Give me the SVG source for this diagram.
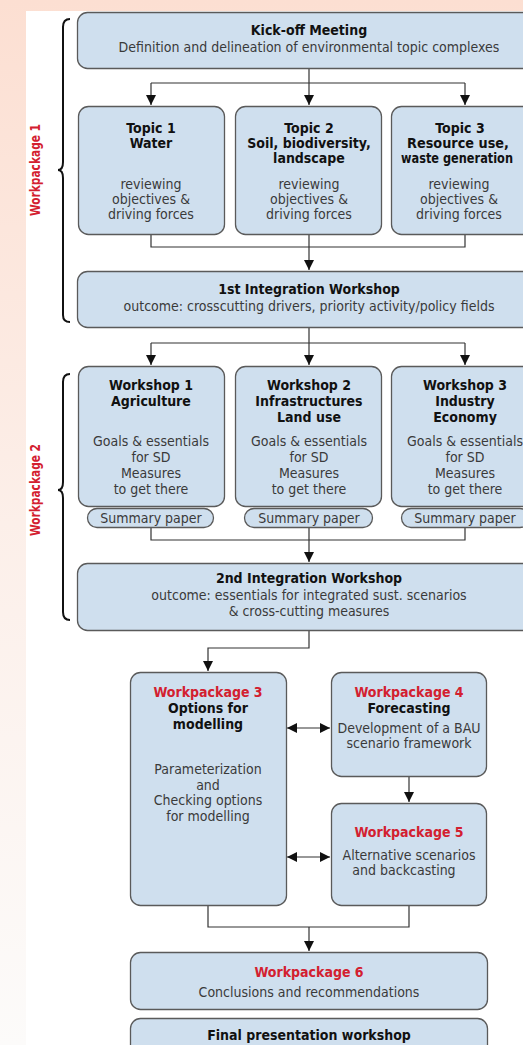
<svg xmlns="http://www.w3.org/2000/svg" width="523" height="1045" viewBox="0 0 523 1045">
<defs>
<linearGradient id="bg" x1="0" y1="0" x2="0" y2="1">
<stop offset="0" stop-color="#fcdfd2"/>
<stop offset="0.5" stop-color="#fcefe9"/>
<stop offset="1" stop-color="#fcfbfa"/>
</linearGradient>
<marker id="ah" viewBox="0 0 10 10" refX="10" refY="5" markerWidth="10" markerHeight="10" markerUnits="userSpaceOnUse" orient="auto-start-reverse">
<path d="M0,0 L10,5 L0,10 Z" fill="#111"/>
</marker>
<style>
.box{fill:#cfdfee;stroke:#5a5a5a;stroke-width:1.3}
.ln{fill:none;stroke:#333;stroke-width:1.2}
.br{fill:none;stroke:#111;stroke-width:2}
text{font-family:"Liberation Sans Narrow","DejaVu Sans Condensed","Liberation Sans",sans-serif;text-anchor:middle;font-size:14px}
.t{font-weight:bold;fill:#111}
.b{fill:#3a3a3a}
.r{font-weight:bold;fill:#d3202f}
</style>
</defs>
<rect x="0" y="0" width="523" height="1045" fill="url(#bg)"/>
<rect x="26" y="11" width="497" height="1034" fill="#ffffff"/>

<g id="wp1-label">
<path class="br" d="M70,19 Q63,19 63,27 L63,162 Q63,170 58,170 Q63,170 63,178 L63,315 Q63,322 70,322"/>
<text class="r" transform="translate(40,170) rotate(-90)" textLength="92" lengthAdjust="spacingAndGlyphs">Workpackage 1</text>
</g>
<g id="wp2-label">
<path class="br" d="M70,374 Q63,374 63,382 L63,482 Q63,490 58,490 Q63,490 63,498 L63,612 Q63,620 70,620"/>
<text class="r" transform="translate(40,490) rotate(-90)" textLength="92" lengthAdjust="spacingAndGlyphs">Workpackage 2</text>
</g>

<g id="connectors">
<path class="ln" d="M309,69 V83 M151,83 H465"/>
<path class="ln" d="M151,83 V105" marker-end="url(#ah)"/>
<path class="ln" d="M309,83 V105" marker-end="url(#ah)"/>
<path class="ln" d="M465,83 V105" marker-end="url(#ah)"/>
<path class="ln" d="M151,234 V247 H465 V234 M309,234 V247"/>
<path class="ln" d="M309,247 V270" marker-end="url(#ah)"/>
<path class="ln" d="M309,328 V343 M151,343 H465"/>
<path class="ln" d="M151,343 V365" marker-end="url(#ah)"/>
<path class="ln" d="M309,343 V365" marker-end="url(#ah)"/>
<path class="ln" d="M465,343 V365" marker-end="url(#ah)"/>
<path class="ln" d="M151,528 V540 H465 V528 M309,528 V540"/>
<path class="ln" d="M309,540 V562" marker-end="url(#ah)"/>
<path class="ln" d="M309,631 V648 H208 V671" marker-end="url(#ah)"/>
<path class="ln" d="M287,728 H330" marker-start="url(#ah)" marker-end="url(#ah)"/>
<path class="ln" d="M409,777 V802" marker-end="url(#ah)"/>
<path class="ln" d="M287,857 H330" marker-start="url(#ah)" marker-end="url(#ah)"/>
<path class="ln" d="M208,906 V927 H409 V906"/>
<path class="ln" d="M309,927 V951" marker-end="url(#ah)"/>
</g>

<g id="kickoff">
<rect class="box" x="77.5" y="12.5" width="470" height="56" rx="10"/>
<text class="t" x="309" y="35">Kick-off Meeting</text>
<text class="b" x="309" y="52">Definition and delineation of environmental topic complexes</text>
</g>

<g id="topic1">
<rect class="box" x="78.5" y="106.5" width="146" height="128" rx="10"/>
<text class="t" x="151" y="133">Topic 1</text>
<text class="t" x="151" y="148">Water</text>
<text class="b" x="151" y="189">reviewing</text>
<text class="b" x="151" y="204">objectives &amp;</text>
<text class="b" x="151" y="219">driving forces</text>
</g>
<g id="topic2">
<rect class="box" x="235.5" y="106.5" width="146" height="128" rx="10"/>
<text class="t" x="309" y="133">Topic 2</text>
<text class="t" x="309" y="148">Soil, biodiversity,</text>
<text class="t" x="309" y="163">landscape</text>
<text class="b" x="309" y="189">reviewing</text>
<text class="b" x="309" y="204">objectives &amp;</text>
<text class="b" x="309" y="219">driving forces</text>
</g>
<g id="topic3">
<rect class="box" x="391.5" y="106.5" width="146" height="128" rx="10"/>
<text class="t" x="460" y="133">Topic 3</text>
<text class="t" x="458" y="148" textLength="102" lengthAdjust="spacingAndGlyphs">Resource use,</text>
<text class="t" x="457" y="163" textLength="112" lengthAdjust="spacingAndGlyphs">waste generation</text>
<text class="b" x="459" y="189">reviewing</text>
<text class="b" x="459" y="204">objectives &amp;</text>
<text class="b" x="459" y="219">driving forces</text>
</g>

<g id="integration1">
<rect class="box" x="77.5" y="271.5" width="470" height="56" rx="10"/>
<text class="t" x="309" y="294">1st Integration Workshop</text>
<text class="b" x="309" y="311">outcome: crosscutting drivers, priority activity/policy fields</text>
</g>

<g id="workshop1">
<rect class="box" x="78.5" y="366.5" width="146" height="140" rx="10"/>
<text class="t" x="151" y="390">Workshop 1</text>
<text class="t" x="151" y="406">Agriculture</text>
<text class="b" x="151" y="446">Goals &amp; essentials</text>
<text class="b" x="151" y="462">for SD</text>
<text class="b" x="151" y="478">Measures</text>
<text class="b" x="151" y="494">to get there</text>
<rect class="box" x="87.5" y="508.5" width="126" height="19" rx="9.5"/>
<text class="b" x="151" y="523">Summary paper</text>
</g>
<g id="workshop2">
<rect class="box" x="235.5" y="366.5" width="146" height="140" rx="10"/>
<text class="t" x="309" y="390">Workshop 2</text>
<text class="t" x="309" y="406">Infrastructures</text>
<text class="t" x="309" y="422">Land use</text>
<text class="b" x="309" y="446">Goals &amp; essentials</text>
<text class="b" x="309" y="462">for SD</text>
<text class="b" x="309" y="478">Measures</text>
<text class="b" x="309" y="494">to get there</text>
<rect class="box" x="244.5" y="508.5" width="128" height="19" rx="9.5"/>
<text class="b" x="309" y="523">Summary paper</text>
</g>
<g id="workshop3">
<rect class="box" x="391.5" y="366.5" width="146" height="140" rx="10"/>
<text class="t" x="465" y="390">Workshop 3</text>
<text class="t" x="465" y="406">Industry</text>
<text class="t" x="465" y="422">Economy</text>
<text class="b" x="465" y="446">Goals &amp; essentials</text>
<text class="b" x="465" y="462">for SD</text>
<text class="b" x="465" y="478">Measures</text>
<text class="b" x="465" y="494">to get there</text>
<rect class="box" x="401.5" y="508.5" width="128" height="19" rx="9.5"/>
<text class="b" x="465" y="523">Summary paper</text>
</g>

<g id="integration2">
<rect class="box" x="77.5" y="563.5" width="470" height="67" rx="10"/>
<text class="t" x="309" y="583">2nd Integration Workshop</text>
<text class="b" x="309" y="600">outcome: essentials for integrated sust. scenarios</text>
<text class="b" x="309" y="616">&amp; cross-cutting measures</text>
</g>

<g id="wp3">
<rect class="box" x="130.5" y="672.5" width="156" height="233" rx="10"/>
<text class="r" x="208" y="697">Workpackage 3</text>
<text class="t" x="208" y="713">Options for</text>
<text class="t" x="208" y="729">modelling</text>
<text class="b" x="208" y="774">Parameterization</text>
<text class="b" x="208" y="790">and</text>
<text class="b" x="208" y="805">Checking options</text>
<text class="b" x="208" y="821">for modelling</text>
</g>
<g id="wp4">
<rect class="box" x="331.5" y="672.5" width="155" height="104" rx="10"/>
<text class="r" x="409" y="697">Workpackage 4</text>
<text class="t" x="409" y="713">Forecasting</text>
<text class="b" x="409" y="733">Development of a BAU</text>
<text class="b" x="409" y="748">scenario framework</text>
</g>
<g id="wp5">
<rect class="box" x="331.5" y="803.5" width="155" height="102" rx="10"/>
<text class="r" x="409" y="837">Workpackage 5</text>
<text class="b" x="409" y="860">Alternative scenarios</text>
<text class="b" x="404" y="875">and backcasting</text>
</g>
<g id="wp6">
<rect class="box" x="130.5" y="952.5" width="357" height="57" rx="10"/>
<text class="r" x="309" y="977">Workpackage 6</text>
<text class="b" x="309" y="997">Conclusions and recommendations</text>
</g>
<g id="final">
<rect class="box" x="130.5" y="1018.5" width="357" height="40" rx="10"/>
<text class="t" x="309" y="1040">Final presentation workshop</text>
</g>
</svg>
